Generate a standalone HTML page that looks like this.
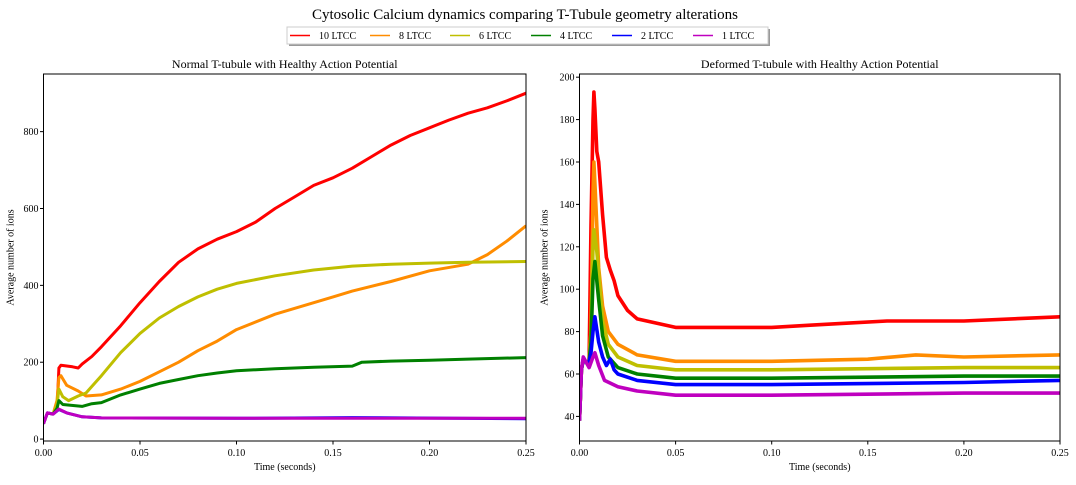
<!DOCTYPE html>
<html><head><meta charset="utf-8"><style>
body{margin:0;background:#fff;width:1076px;height:480px;overflow:hidden}
svg{font-family:"Liberation Serif",serif}
</style></head><body>
<svg id="c" width="1076" height="480">
<text x="525" y="19" font-size="15" text-anchor="middle">Cytosolic Calcium dynamics comparing T-Tubule geometry alterations</text>
<g>
<rect x="289" y="29" width="481" height="17" fill="#999"/>
<rect x="287" y="27" width="481" height="17" fill="#fff" stroke="#ccc"/>
<g id="leg"></g>
</g>
<g id="p1"></g><g id="p2"></g>
</svg>
<script>
const labels=["10 LTCC","8 LTCC","6 LTCC","4 LTCC","2 LTCC","1 LTCC"];
const colors=["#ff0000","#ff8c00","#bfbf00","#008000","#0000ff","#bf00bf"];
const xTicks=[0,0.05,0.10,0.15,0.20,0.25];
const yTicksL=[0,200,400,600,800];
const yTicksR=[40,60,80,100,120,140,160,180,200];
// Left panel series (time, value)
const L_red_t=[0,0.002,0.005,0.007,0.008,0.009,0.015,0.018,0.02,0.025,0.03,0.04,0.05,0.06,0.07,0.08,0.09,0.10,0.11,0.12,0.13,0.14,0.15,0.16,0.17,0.18,0.19,0.20,0.21,0.22,0.23,0.24,0.25];
const L_red_v=[40,68,65,75,185,192,188,185,195,215,240,295,355,410,460,495,520,540,565,600,630,660,680,705,735,765,790,810,830,848,862,880,900];
const L_org_t=[0.005,0.007,0.008,0.009,0.012,0.018,0.022,0.03,0.04,0.05,0.06,0.07,0.08,0.09,0.10,0.12,0.14,0.15,0.16,0.18,0.20,0.22,0.23,0.24,0.25];
const L_org_v=[65,100,160,165,140,125,112,115,130,150,175,200,230,255,285,325,355,370,385,410,438,455,480,515,555];
const L_yel_t=[0.005,0.007,0.008,0.01,0.013,0.018,0.022,0.03,0.04,0.05,0.06,0.07,0.08,0.09,0.10,0.12,0.14,0.16,0.18,0.20,0.22,0.25];
const L_yel_v=[65,90,130,110,100,112,120,165,225,275,315,345,370,390,405,425,440,450,455,458,460,462];
const L_grn_t=[0.005,0.007,0.008,0.01,0.02,0.025,0.03,0.04,0.05,0.06,0.07,0.08,0.09,0.10,0.12,0.14,0.16,0.165,0.18,0.20,0.22,0.25];
const L_grn_v=[65,80,100,90,85,92,95,115,130,145,155,165,172,178,183,187,190,200,203,205,208,212];
const L_blu_t=[0,0.002,0.005,0.008,0.012,0.02,0.03,0.10,0.16,0.25];
const L_blu_v=[40,68,65,77,68,58,55,54,56,53];
const L_mag_t=[0,0.002,0.005,0.008,0.012,0.02,0.03,0.10,0.25];
const L_mag_v=[40,68,65,78,68,58,55,54,54];
// Right panel series
const R_red_t=[0,0.001,0.002,0.004,0.005,0.006,0.007,0.0075,0.008,0.009,0.01,0.012,0.014,0.016,0.018,0.02,0.025,0.03,0.04,0.05,0.07,0.10,0.12,0.14,0.16,0.20,0.25];
const R_red_v=[38,62,67,65,66,130,180,193,185,165,160,135,115,109,104,97,90,86,84,82,82,82,83,84,85,85,87];
const R_org_t=[0,0.001,0.002,0.004,0.005,0.006,0.007,0.0075,0.008,0.01,0.012,0.015,0.02,0.03,0.05,0.10,0.15,0.175,0.20,0.25];
const R_org_v=[38,62,67,65,66,80,145,160,150,110,92,80,74,69,66,66,67,69,68,69];
const R_yel_t=[0,0.001,0.002,0.004,0.005,0.006,0.007,0.0075,0.009,0.012,0.015,0.02,0.03,0.05,0.10,0.20,0.25];
const R_yel_v=[38,62,67,65,66,80,120,128,118,85,74,68,64,62,62,63,63];
const R_grn_t=[0,0.001,0.002,0.004,0.005,0.006,0.007,0.008,0.01,0.012,0.015,0.02,0.03,0.05,0.10,0.20,0.25];
const R_grn_v=[38,62,67,65,66,75,105,113,95,78,68,63,60,58,58,59,59];
const R_blu_t=[0,0.001,0.002,0.004,0.005,0.006,0.007,0.008,0.01,0.012,0.014,0.016,0.018,0.02,0.03,0.05,0.10,0.20,0.25];
const R_blu_v=[38,62,67,65,66,70,80,87,75,68,64,67,62,60,57,55,55,56,57];
const R_mag_t=[0,0.001,0.002,0.005,0.007,0.008,0.01,0.013,0.02,0.03,0.05,0.10,0.20,0.25];
const R_mag_v=[38,62,68,63,68,70,64,57,54,52,50,50,51,51];

const NS="http://www.w3.org/2000/svg";
function mk(tag,attrs,parent){const e=document.createElementNS(NS,tag);for(const k in attrs)e.setAttribute(k,attrs[k]);parent.appendChild(e);return e;}

const leg=document.getElementById('leg');
const legX=[290,370,450,531,612,693];
labels.forEach((lab,i)=>{
  const ln=mk('line',{x1:legX[i],x2:legX[i]+20,y1:35.5,y2:35.5,stroke:colors[i],'stroke-width':1.5},leg);
  
  
  const t=mk('text',{x:legX[i]+29,y:39,'font-size':10},leg);
  t.textContent=lab;
  
  
});

function panel(g,box,ymin,ymax,yTicks,series,title,name,sw){
  const sx=v=>box.x0+(v-0)/(0.25)*(box.x1-box.x0);
  const sy=v=>box.y1-(v-ymin)/(ymax-ymin)*(box.y1-box.y0);
  
  
  const tt=mk('text',{x:(box.x0+box.x1)/2,y:68,'font-size':12,'text-anchor':'middle'},g);
  tt.textContent=title;
  
  
  const clipId=name+'-clip';
  const cp=mk('clipPath',{id:clipId},g);
  mk('rect',{x:box.x0,y:box.y0,width:box.x1-box.x0,height:box.y1-box.y0},cp);
  const sg=mk('g',{'clip-path':'url(#'+clipId+')'},g);
  series.forEach((s,i)=>{
    const d=s[0].map((t,j)=>(j?'L':'M')+sx(t).toFixed(1)+' '+sy(s[1][j]).toFixed(1)).join('');
    const p=mk('path',{d:d,fill:'none',stroke:colors[i],'stroke-width':sw,'stroke-linejoin':'round'},sg);
    
    
  });
  const fr=mk('rect',{x:box.x0,y:box.y0,width:box.x1-box.x0,height:box.y1-box.y0,fill:'none',stroke:'#000','stroke-width':1},g);
  
  
  xTicks.forEach(v=>{
    const x=sx(v);
    mk('line',{x1:x,x2:x,y1:box.y1,y2:box.y1+3.5,stroke:'#000'},g);
    const t=mk('text',{x:x,y:box.y1+15,'font-size':10,'text-anchor':'middle'},g);
    t.textContent=v.toFixed(2);
    
    
  });
  yTicks.forEach(v=>{
    const y=sy(v);
    mk('line',{x1:box.x0-3.5,x2:box.x0,y1:y,y2:y,stroke:'#000'},g);
    const t=mk('text',{x:box.x0-5,y:y+3.5,'font-size':10,'text-anchor':'end'},g);
    t.textContent=v;
    
    
  });
  const xl=mk('text',{x:(box.x0+box.x1)/2,y:470,'font-size':10,'text-anchor':'middle'},g);
  xl.textContent='Time (seconds)';
  
  
  const yx=box.x0-(name==='left'?30:32);
  const yl=mk('text',{x:yx,y:(box.y0+box.y1)/2,'font-size':10,'text-anchor':'middle',transform:'rotate(-90 '+yx+' '+(box.y0+box.y1)/2+')'},g);
  yl.textContent='Average number of ions';
  
  
}
panel(document.getElementById('p1'),{x0:43.5,x1:526,y0:74,y1:441},-5,950,yTicksL,
 [[L_red_t,L_red_v],[L_org_t,L_org_v],[L_yel_t,L_yel_v],[L_grn_t,L_grn_v],[L_blu_t,L_blu_v],[L_mag_t,L_mag_v]],
 'Normal T-tubule with Healthy Action Potential','left',3);
panel(document.getElementById('p2'),{x0:579.5,x1:1060,y0:74,y1:441},28.4,201.5,yTicksR,
 [[R_red_t,R_red_v],[R_org_t,R_org_v],[R_yel_t,R_yel_v],[R_grn_t,R_grn_v],[R_blu_t,R_blu_v],[R_mag_t,R_mag_v]],
 'Deformed T-tubule with Healthy Action Potential','right',3.6);
</script>
</body></html>
